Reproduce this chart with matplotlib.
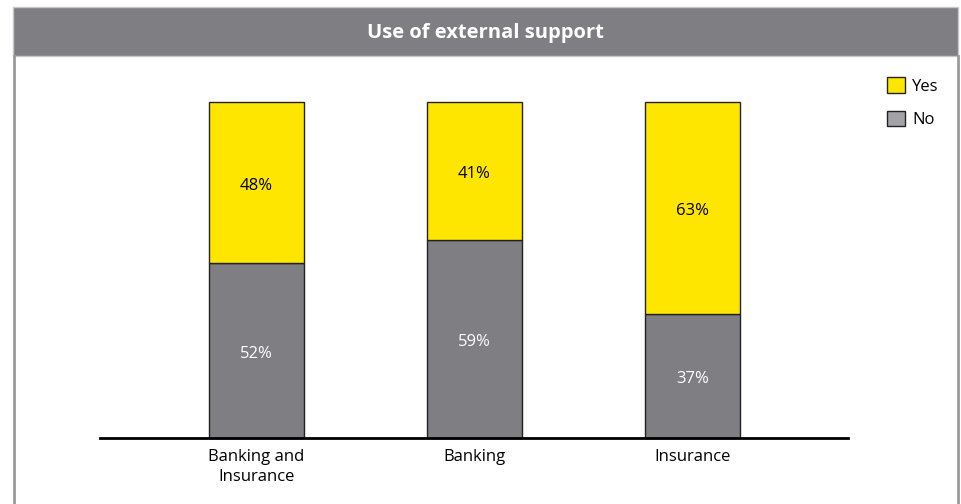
import numpy as np
import matplotlib.pyplot as plt
from matplotlib.patches import Rectangle, Patch

categories = ["Banking and\nInsurance", "Banking", "Insurance"]
no_values = [52, 59, 37]
yes_values = [48, 41, 63]

YELLOW = "#FFE600"
GREY = "#7F7E83"

plt.rcParams['font.family'] = ['Open Sans', 'DejaVu Sans']

W, H = 961, 504
fig = plt.figure(figsize=(W / 100, H / 100), dpi=100)


def fx(px):
    return px / W


def fy(py):
    return 1 - py / H


# title band and frame
fig.patches.append(Rectangle((fx(13), fy(56)), fx(958) - fx(13), fy(7) - fy(56),
                             transform=fig.transFigure, facecolor=GREY,
                             edgecolor="#c8c8cb", linewidth=1, zorder=0))
fig.lines.append(plt.Line2D([fx(14), fx(14)], [fy(56), 0], transform=fig.transFigure,
                            color="#9a999e", linewidth=2))
fig.lines.append(plt.Line2D([fx(958), fx(958)], [fy(56), 0], transform=fig.transFigure,
                            color="#9a999e", linewidth=2))
fig.text(fx(485), fy(33), "Use of external support", color="white",
         fontsize=14.5, fontweight="bold", ha="center", va="center")

ax = fig.add_axes([fx(100), fy(438), fx(848) - fx(100), fy(102) - fy(438)])
x = np.arange(len(categories))
no = np.array(no_values) / 100
yes = np.array(yes_values) / 100
bw = 0.436
ax.bar(x, no, width=bw, color=GREY, edgecolor="#222222", linewidth=1, clip_on=False)
ax.bar(x, yes, bottom=no, width=bw, color=YELLOW, edgecolor="#222222", linewidth=1,
       clip_on=False)

for i in range(len(x)):
    ax.text(x[i], no[i] / 2 - 0.01, f"{no_values[i]}%", ha="center", va="center",
            color="white", fontsize=12)
    ax.text(x[i], no[i] + yes[i] / 2 - 0.01, f"{yes_values[i]}%", ha="center",
            va="center", color="black", fontsize=12)

ax.set_xlim((100 - 256.5) / 218, (848 - 256.5) / 218)
ax.set_ylim(0, 1)
for s in ["top", "right", "left"]:
    ax.spines[s].set_visible(False)
ax.spines["bottom"].set_linewidth(2)
ax.spines["bottom"].set_color("black")
ax.set_yticks([])
ax.set_xticks(x)
ax.set_xticklabels(categories, fontsize=12, linespacing=1.3)
ax.tick_params(axis="x", length=0, pad=8)

handles = [Patch(facecolor=YELLOW, edgecolor="#222222", label="Yes"),
           Patch(facecolor="#A3A3A7", edgecolor="#222222", label="No")]
fig.legend(handles=handles, loc="upper left", bbox_to_anchor=(fx(874), fy(64)),
           frameon=False, fontsize=12, handlelength=1.05, handleheight=1.05,
           handletextpad=0.45, labelspacing=0.95, borderpad=0.3)

fig.savefig("out.png", dpi=100)
